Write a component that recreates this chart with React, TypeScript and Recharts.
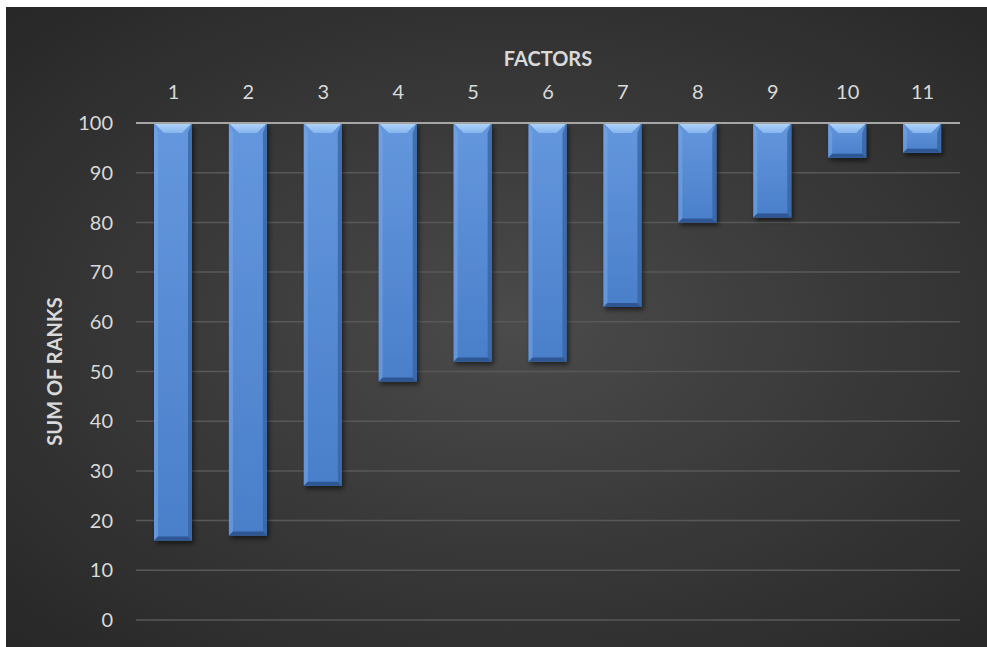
import React from 'react';
import { BarChart, Bar, XAxis, YAxis, CartesianGrid, Label } from 'recharts';

const factors = ['1', '2', '3', '4', '5', '6', '7', '8', '9', '10', '11'];
const sumOfRanks = [16, 17, 27, 48, 52, 52, 63, 80, 81, 93, 94];
const yTicks = [0, 10, 20, 30, 40, 50, 60, 70, 80, 90, 100];

// bars hang from the 100 line down to the value
const data = factors.map((f, i) => ({ factor: f, rank: [sumOfRanks[i], 100] }));

const FONT = 'Lato, "Open Sans", sans-serif';

const BevelBar = (props: any) => {
  const { x, y, width, height } = props;
  if (!height || height <= 0) return null;
  const t = Math.min(10, height / 2);
  const s = 4;
  return (
    <g filter="url(#barShadow)">
      <rect x={x} y={y} width={width} height={height} fill="url(#barBody)" />
      <polygon
        points={`${x},${y} ${x + s},${y + t} ${x + s},${y + height - s} ${x},${y + height}`}
        fill="#7aa8e8"
        opacity={0.55}
      />
      <polygon
        points={`${x + width},${y} ${x + width - s},${y + t} ${x + width - s},${y + height - s} ${x + width},${y + height}`}
        fill="#34619f"
        opacity={0.75}
      />
      <polygon
        points={`${x},${y + height} ${x + s},${y + height - s} ${x + width - s},${y + height - s} ${x + width},${y + height}`}
        fill="#2d5792"
      />
      <polygon
        points={`${x},${y} ${x + width},${y} ${x + width - t},${y + t} ${x + t},${y + t}`}
        fill="url(#barTop)"
      />
    </g>
  );
};

const App: React.FC = () => {
  return (
    <div style={{ position: 'absolute', left: 0, top: 0, width: 987, height: 647, background: '#fff', overflow: 'hidden' }}>
      <div
        style={{
          position: 'absolute',
          left: 6,
          top: 7,
          width: 981,
          height: 640,
          background: 'radial-gradient(ellipse at 52% 50%, #4b4b4b 0%, #3a3a3a 45%, #272727 100%)',
        }}
      />
      <div style={{ position: 'absolute', left: 0, top: 0 }}>
        <BarChart
          width={987}
          height={647}
          data={data}
          margin={{ top: 68, right: 27, bottom: 27, left: 0 }}
          barSize={38}
        >
          <defs>
            <linearGradient id="barBody" x1="0" y1="0" x2="0" y2="1">
              <stop offset="0%" stopColor="#6497dd" />
              <stop offset="100%" stopColor="#4a7fca" />
            </linearGradient>
            <linearGradient id="barTop" x1="0" y1="0" x2="0" y2="1">
              <stop offset="0%" stopColor="#b3d6fb" />
              <stop offset="100%" stopColor="#86b5ee" />
            </linearGradient>
            <filter id="barShadow" x="-30%" y="-10%" width="160%" height="130%">
              <feDropShadow dx="2" dy="3" stdDeviation="2.5" floodColor="#000" floodOpacity="0.55" />
            </filter>
          </defs>
          <CartesianGrid vertical={false} stroke="#585858" strokeWidth={1.5} />
          <XAxis
            dataKey="factor"
            orientation="top"
            height={55}
            axisLine={{ stroke: '#a6a6a6', strokeWidth: 2 }}
            tickLine={false}
            tickSize={0}
            tickMargin={24}
            tick={{ fill: '#d9d9d9', fontSize: 20, fontFamily: FONT }}
          >
            <Label
              value="FACTORS"
              position="top"
              offset={2}
              style={{ fill: '#d9d9d9', fontSize: 20, fontWeight: 700, fontFamily: FONT }}
            />
          </XAxis>
          <YAxis
            type="number"
            domain={[0, 100]}
            ticks={yTicks}
            width={136}
            axisLine={false}
            tickLine={false}
            tickSize={0}
            tickMargin={23}
            interval={0}
            tick={{ fill: '#d9d9d9', fontSize: 20, fontFamily: FONT }}
          >
            <Label
              value="SUM OF RANKS"
              angle={-90}
              position="center"
              dx={-13}
              style={{ fill: '#d9d9d9', fontSize: 20, fontWeight: 700, fontFamily: FONT, textAnchor: 'middle' }}
            />
          </YAxis>
          <Bar dataKey="rank" shape={<BevelBar />} isAnimationActive={false} />
        </BarChart>
      </div>
    </div>
  );
};

export default App;
